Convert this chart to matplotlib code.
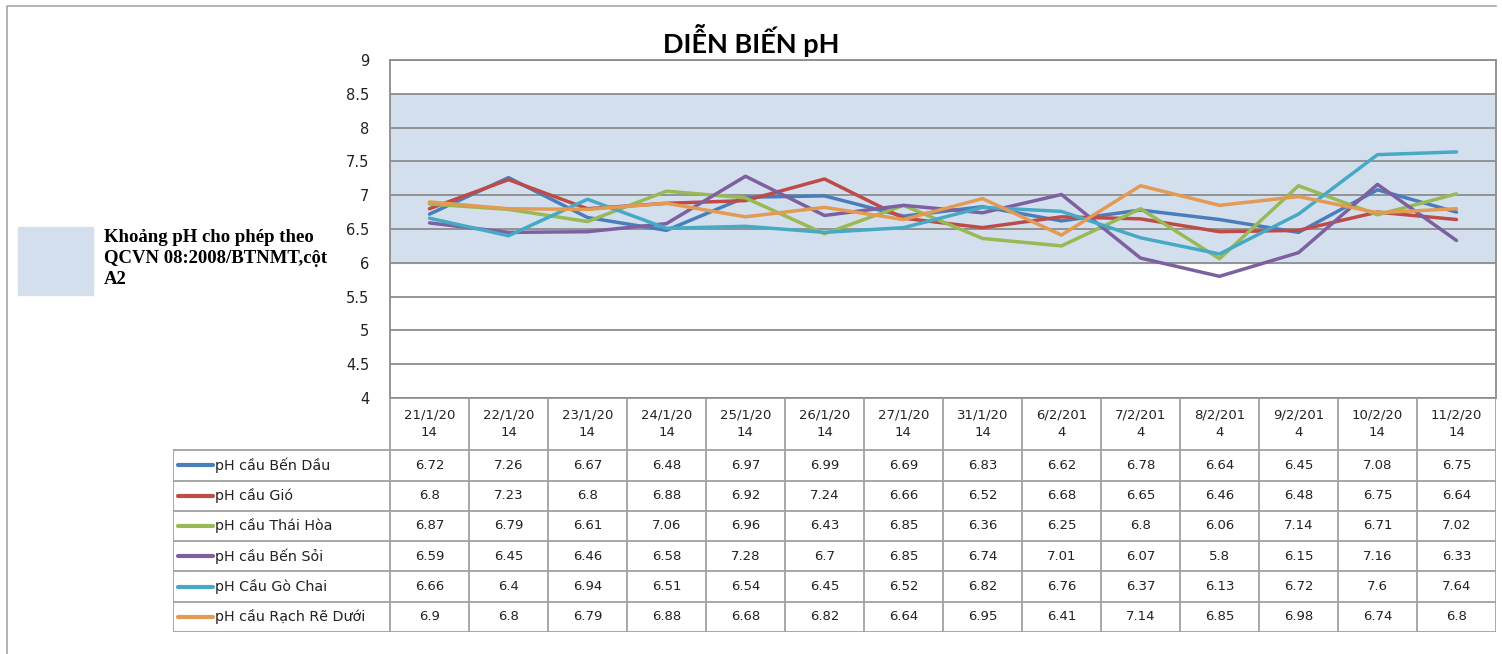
import numpy as np
import matplotlib
matplotlib.use('Agg')
import matplotlib.pyplot as plt
from matplotlib.patches import Rectangle

# -----------------------------------------------------------------------
# Data
# -----------------------------------------------------------------------
dates = ['21/1/20\n14', '22/1/20\n14', '23/1/20\n14', '24/1/20\n14',
         '25/1/20\n14', '26/1/20\n14', '27/1/20\n14', '31/1/20\n14',
         '6/2/201\n4', '7/2/201\n4', '8/2/201\n4', '9/2/201\n4',
         '10/2/20\n14', '11/2/20\n14']

series_names = ['pH cầu Bến Dầu', 'pH cầu Gió', 'pH cầu Thái Hòa',
                'pH cầu Bến Sỏi', 'pH Cầu Gò Chai', 'pH cầu Rạch Rẽ Dưới']

ben_dau = [6.72, 7.26, 6.67, 6.48, 6.97, 6.99, 6.69, 6.83, 6.62, 6.78, 6.64, 6.45, 7.08, 6.75]
gio = [6.8, 7.23, 6.8, 6.88, 6.92, 7.24, 6.66, 6.52, 6.68, 6.65, 6.46, 6.48, 6.75, 6.64]
thai_hoa = [6.87, 6.79, 6.61, 7.06, 6.96, 6.43, 6.85, 6.36, 6.25, 6.8, 6.06, 7.14, 6.71, 7.02]
ben_soi = [6.59, 6.45, 6.46, 6.58, 7.28, 6.7, 6.85, 6.74, 7.01, 6.07, 5.8, 6.15, 7.16, 6.33]
go_chai = [6.66, 6.4, 6.94, 6.51, 6.54, 6.45, 6.52, 6.82, 6.76, 6.37, 6.13, 6.72, 7.6, 7.64]
rach_re = [6.9, 6.8, 6.79, 6.88, 6.68, 6.82, 6.64, 6.95, 6.41, 7.14, 6.85, 6.98, 6.74, 6.8]

all_series = [ben_dau, gio, thai_hoa, ben_soi, go_chai, rach_re]
colors = ['#4A7EBB', '#BE4B48', '#98B954', '#7D60A0', '#46AAC5', '#E39A53']

ph_low, ph_high = 6.0, 8.5
band_label = 'Khoảng pH cho phép theo\nQCVN 08:2008/BTNMT,cột\nA2'

# -----------------------------------------------------------------------
# Layout helpers (pixel coords, origin top-left)
# -----------------------------------------------------------------------
W, H = 1502, 654
fig = plt.figure(figsize=(W / 100, H / 100), dpi=100)


def px_axes(left, top, right, bottom, **kw):
    return fig.add_axes([left / W, 1 - bottom / H, (right - left) / W,
                         (bottom - top) / H], **kw)


grid_col = '#8C8C8C'
n = len(dates)
x = np.arange(n)

# outer chart border
bg = px_axes(0, 0, W, H)
bg.set_xlim(0, W)
bg.set_ylim(H, 0)
bg.axis('off')
bg.plot([7, 7, 1496], [H, 6, 6], color='#A6A6A6', lw=1.2)

# -----------------------------------------------------------------------
# Main plot
# -----------------------------------------------------------------------
P_L, P_T, P_R, P_B = 390, 60, 1496, 398
ax = px_axes(P_L, P_T, P_R, P_B)
ax.axhspan(ph_low, ph_high, color='#D4DFEE', zorder=0)
for vals, c in zip(all_series, colors):
    ax.plot(x, vals, color=c, lw=2.5, solid_capstyle='round', zorder=3)

ax.set_xlim(-0.5, n - 0.5)
ax.set_ylim(4, 9)
ax.set_yticks(np.arange(4, 9.01, 0.5))
ax.set_yticklabels([f'{v:g}' for v in np.arange(4, 9.01, 0.5)],
                   fontsize=10.5, family='DejaVu Sans', color='#222222')
ax.tick_params(axis='y', length=0, pad=15)
ax.set_xticks([])
ax.grid(axis='y', color=grid_col, lw=1.3, zorder=1)
for s in ax.spines.values():
    s.set_color(grid_col)
    s.set_linewidth(1.3)

fig.text(751 / W, 1 - 53 / H, 'DIỄN BIẾN pH', ha='center', va='baseline',
         fontsize=19.5, fontweight='bold', family='Lato')

# legend for the allowed band
bg.add_patch(Rectangle((18, 227), 75, 68, color='#D4DFEE'))
bg.text(104, 229, band_label, ha='left', va='top', fontsize=13.5,
        fontweight='bold', family='Liberation Serif', linespacing=1.3)

# -----------------------------------------------------------------------
# Data table
# -----------------------------------------------------------------------
T_L, T_T, T_B = 173, 398, 632
col_w = (P_R - P_L) / n
lab_w = (P_L - T_L) / col_w
hdr_h = 53 / 30.7
tb = px_axes(T_L, T_T, P_R, T_B)
tb.set_xlim(-0.5 - lab_w, n - 0.5)
tb.set_ylim(hdr_h + len(all_series), 0)
tb.axis('off')

tcol = '#A0A0A0'
rows_y = hdr_h + np.arange(len(all_series) + 1)
# horizontal lines
tb.plot([-0.5, n - 0.5], [0, 0], color=tcol, lw=1.3)
for yy in rows_y:
    tb.plot([-0.5 - lab_w, n - 0.5], [yy, yy], color=tcol, lw=1.3)
# vertical lines
for xx in np.arange(n + 1) - 0.5:
    tb.plot([xx, xx], [0, rows_y[-1]], color=tcol, lw=1.3)
tb.plot([-0.5 - lab_w] * 2, [hdr_h, rows_y[-1]], color=tcol, lw=1.3)

for j, d in enumerate(dates):
    tb.text(j, hdr_h / 2, d, ha='center', va='center', fontsize=9.5,
            family='DejaVu Sans', linespacing=1.45, color='#222222')

x0 = -0.5 - lab_w
for i, (name, vals, c) in enumerate(zip(series_names, all_series, colors)):
    yc = hdr_h + i + 0.5
    tb.plot([x0 + 0.06, x0 + 0.5], [yc, yc], color=c, lw=3,
            solid_capstyle='round')
    tb.text(x0 + 0.53, yc, name, ha='left', va='center', fontsize=10.3,
            family='DejaVu Sans', color='#222222')
    for j, v in enumerate(vals):
        tb.text(j, yc, f'{v:g}', ha='center', va='center', fontsize=9.5,
                family='DejaVu Sans', color='#222222')

fig.savefig('out.png', dpi=100)
